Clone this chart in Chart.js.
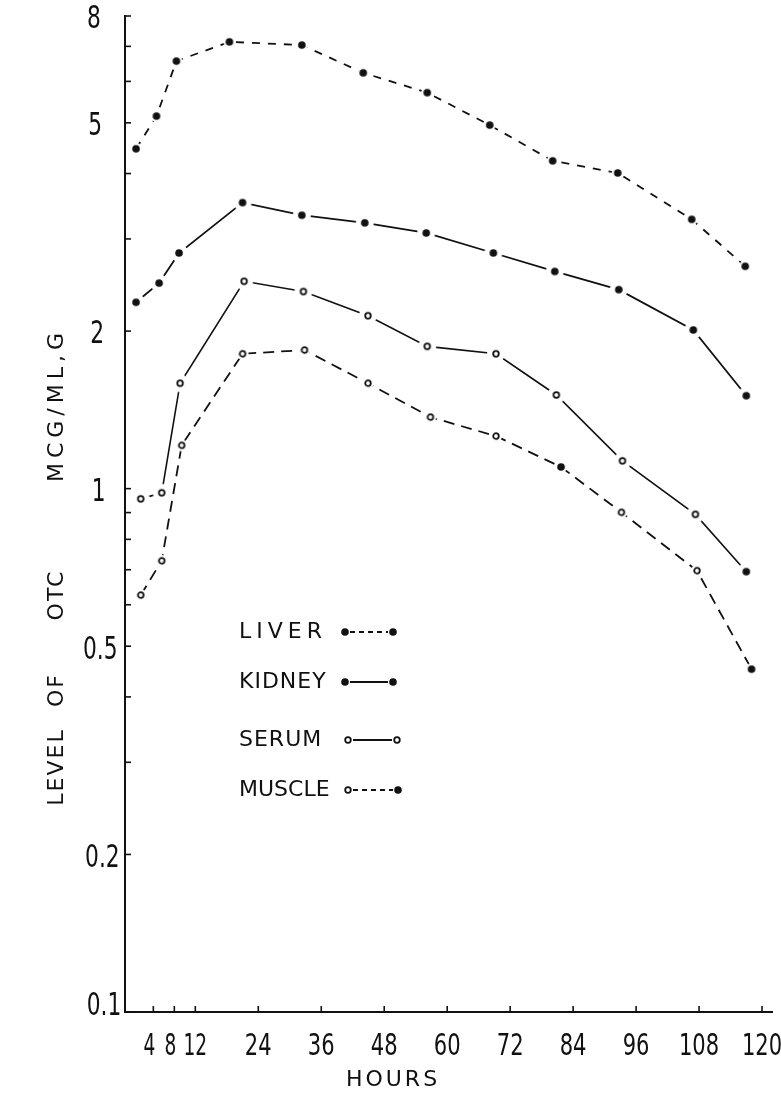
<!DOCTYPE html>
<html>
<head>
<meta charset="utf-8">
<script src="https://cdn.jsdelivr.net/npm/chart.js@4.4.1/dist/chart.umd.min.js"></script>
<style>
  html, body { margin: 0; padding: 0; background: #fff; }
  #wrap { width: 781px; height: 1098px; }
</style>
</head>
<body>
<div id="wrap"><canvas id="chart" width="781" height="1098"></canvas></div>
<script>
// values (hours after dosing, level of OTC)
const liverHours  = [0.7, 4.6, 8.4, 18.5, 32.3, 44.0, 56.2, 68.1, 80.1, 92.5, 106.6, 116.8];
const liverLevel  = [4.46, 5.15, 6.56, 7.14, 7.04, 6.23, 5.71, 4.95, 4.23, 4.01, 3.27, 2.66];

const kidneyHours = [0.7, 5.1, 8.9, 21.0, 32.3, 44.3, 56.0, 68.8, 80.5, 92.7, 106.9, 117.0];
const kidneyLevel = [2.27, 2.47, 2.82, 3.52, 3.33, 3.22, 3.08, 2.82, 2.60, 2.40, 2.01, 1.505];

const serumHours  = [1.6, 5.6, 9.1, 21.3, 32.6, 44.9, 56.2, 69.3, 80.8, 93.4, 107.3, 117.0];
const serumLevel  = [0.956, 0.982, 1.59, 2.49, 2.38, 2.14, 1.87, 1.81, 1.51, 1.13, 0.893, 0.694];

const muscleHours = [1.6, 5.6, 9.4, 21.0, 32.8, 44.9, 56.8, 69.3, 81.7, 93.2, 107.6, 118.0];
const muscleLevel = [0.626, 0.728, 1.21, 1.81, 1.84, 1.59, 1.37, 1.26, 1.10, 0.901, 0.697, 0.452];

const seriesNames = ["LIVER", "KIDNEY", "SERUM", "MUSCLE"];

const xTickValues = [4, 8, 12, 24, 36, 48, 60, 72, 84, 96, 108, 120];
const yTickValues = [0.1, 0.2, 0.5, 1, 2, 5, 8];
const yMinorTicks = [0.3, 0.4, 0.6, 0.7, 0.8, 0.9, 3, 4, 6, 7];

const INK = "#111";

// point marks: dot (filled or open) with a white halo so the line stops short of it
function makeMark(filled, halo) {
  const size = Math.max(halo, 5) * 2 + 2;
  const c = document.createElement("canvas");
  c.width = size;
  c.height = size;
  const g = c.getContext("2d");
  const m = size / 2;
  if (halo > 0) {
    g.fillStyle = "#fff";
    g.beginPath();
    g.arc(m, m, halo, 0, Math.PI * 2);
    g.fill();
  }
  g.beginPath();
  if (filled) {
    g.arc(m, m, 3.8, 0, Math.PI * 2);
    g.fillStyle = INK;
    g.fill();
  } else {
    g.arc(m, m, 2.8, 0, Math.PI * 2);
    g.fillStyle = "#fff";
    g.fill();
    g.lineWidth = 1.8;
    g.strokeStyle = INK;
    g.stroke();
  }
  return c;
}

const dotSmallHalo = makeMark(true, 6);
const dotBigHalo = makeMark(true, 9);
const ringBigHalo = makeMark(false, 9);
const ringSmallHalo = makeMark(false, 6);
const dotKey = makeMark(true, 3);
const ringKey = makeMark(false, 3);

const toPoints = (hours, level) => hours.map((h, i) => ({ x: h, y: level[i] }));

// which muscle/serum marks are drawn solid in the original
const serumStyles = serumHours.map((_, i) => (i === 11 ? dotBigHalo : ringBigHalo));
const muscleStyles = muscleHours.map((_, i) => (i === 8 || i === 11 ? dotSmallHalo : ringSmallHalo));

function narrowText(ctx, txt, x, y, size, sx, align) {
  ctx.save();
  ctx.translate(x, y);
  ctx.scale(sx, 1);
  ctx.font = size + 'px "DejaVu Sans", sans-serif';
  ctx.textAlign = align;
  ctx.textBaseline = "middle";
  ctx.fillStyle = INK;
  ctx.fillText(txt, 0, 0);
  ctx.restore();
}

// inward ticks, number labels, axis titles and the in-plot key
const paperAxes = {
  id: "paperAxes",
  afterDraw(chart) {
    const ctx = chart.ctx;
    const xs = chart.scales.x;
    const ys = chart.scales.y;
    const area = chart.chartArea;
    ctx.save();
    ctx.strokeStyle = INK;
    ctx.lineWidth = 1.6;

    // x ticks
    xTickValues.forEach((v) => {
      const px = xs.getPixelForValue(v);
      ctx.beginPath();
      ctx.moveTo(px, area.bottom);
      ctx.lineTo(px, area.bottom - 6);
      ctx.stroke();
      const lx = v < 10 ? px - 4 : px;
      narrowText(ctx, String(v), lx, 1047, 31, v <= 12 ? 0.6 : 0.68, "center");
    });

    // y ticks
    yTickValues.concat(yMinorTicks).forEach((v) => {
      const py = ys.getPixelForValue(v);
      ctx.beginPath();
      ctx.moveTo(area.left, py);
      ctx.lineTo(area.left + 6, py);
      ctx.stroke();
    });
    yTickValues.forEach((v, i) => {
      const py = ys.getPixelForValue(v);
      const ly = i === 0 ? py - 5 : py + 4;
      narrowText(ctx, String(v), 94 + (py - 16) * 0.01, ly, 32, 0.68, "center");
    });

    // axis titles
    ctx.fillStyle = INK;
    ctx.font = '22px "DejaVu Sans", sans-serif';
    ctx.textBaseline = "middle";
    ctx.textAlign = "center";
    ctx.letterSpacing = "3px";
    ctx.fillText("HOURS", 393, 1080);

    ctx.save();
    ctx.translate(57, 0);
    ctx.rotate(-Math.PI / 2);
    ctx.letterSpacing = "2px";
    ctx.fillText("LEVEL", -767, 0);
    ctx.fillText("OF", -690, 0);
    ctx.fillText("OTC", -595, 0);
    ctx.letterSpacing = "5px";
    ctx.fillText("MCG/ML,G", -405, 0);
    ctx.restore();

    // key
    const key = [
      { y: 632, x0: 345, x1: 393, a: dotKey, b: dotKey, dash: [5, 4], sp: "5px" },
      { y: 682, x0: 345, x1: 393, a: dotKey, b: dotKey, dash: [], sp: "1px" },
      { y: 740, x0: 348, x1: 397, a: ringKey, b: ringKey, dash: [], sp: "1px" },
      { y: 790, x0: 348, x1: 398, a: ringKey, b: dotKey, dash: [5, 4], sp: "0px" },
    ];
    key.forEach((k, i) => {
      ctx.letterSpacing = k.sp;
      ctx.textAlign = "left";
      ctx.font = '22px "DejaVu Sans", sans-serif';
      ctx.fillText(seriesNames[i], 239, k.y);
      ctx.setLineDash(k.dash);
      ctx.lineWidth = 1.8;
      ctx.beginPath();
      ctx.moveTo(k.x0 + 5, k.y);
      ctx.lineTo(k.x1 - 5, k.y);
      ctx.stroke();
      ctx.setLineDash([]);
      ctx.drawImage(k.a, k.x0 - k.a.width / 2, k.y - k.a.height / 2);
      ctx.drawImage(k.b, k.x1 - k.b.width / 2, k.y - k.b.height / 2);
    });
    ctx.restore();
  },
};

new Chart(document.getElementById("chart"), {
  type: "line",
  data: {
    datasets: [
      {
        label: seriesNames[0],
        data: toPoints(liverHours, liverLevel),
        borderColor: INK,
        borderWidth: 1.8,
        borderDash: [8, 8],
        pointStyle: dotSmallHalo,
        tension: 0,
      },
      {
        label: seriesNames[1],
        data: toPoints(kidneyHours, kidneyLevel),
        borderColor: INK,
        borderWidth: 1.8,
        pointStyle: dotBigHalo,
        tension: 0,
      },
      {
        label: seriesNames[2],
        data: toPoints(serumHours, serumLevel),
        borderColor: INK,
        borderWidth: 1.6,
        pointStyle: serumStyles,
        tension: 0,
      },
      {
        label: seriesNames[3],
        data: toPoints(muscleHours, muscleLevel),
        borderColor: INK,
        borderWidth: 1.8,
        borderDash: [11, 7],
        pointStyle: muscleStyles,
        tension: 0,
      },
    ],
  },
  options: {
    responsive: false,
    animation: false,
    devicePixelRatio: 1,
    clip: false,
    layout: { padding: { left: 125, top: 16, right: 9, bottom: 86 } },
    plugins: { legend: { display: false }, tooltip: { enabled: false } },
    scales: {
      x: {
        type: "linear",
        min: -1.4,
        max: 121.9,
        grid: { display: false, drawTicks: false },
        border: { display: true, color: INK, width: 2 },
        ticks: { display: false },
      },
      y: {
        type: "logarithmic",
        min: 0.1,
        max: 8,
        grid: { display: false, drawTicks: false },
        border: { display: true, color: INK, width: 2 },
        ticks: { display: false },
      },
    },
  },
  plugins: [paperAxes],
});
</script>
</body>
</html>
